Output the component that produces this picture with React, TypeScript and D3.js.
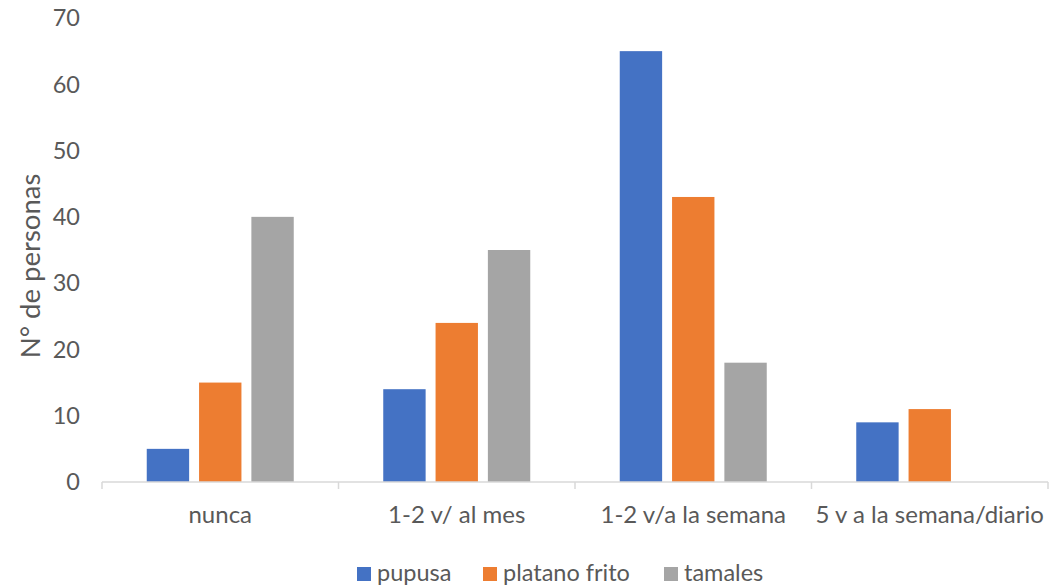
import React from "react";
import * as d3 from "d3";

const categories = ["nunca", "1-2 v/ al mes", "1-2 v/a la semana", "5 v a la semana/diario"];
const seriesNames = ["pupusa", "platano frito", "tamales"];
const pupusa = [5, 14, 65, 9];
const platanoFrito = [15, 24, 43, 11];
const tamales = [40, 35, 18, 0];
const yTicks = [0, 10, 20, 30, 40, 50, 60, 70];
const colors = ["#4472C4", "#ED7D31", "#A5A5A5"];

const W = 1054, H = 586;
const left = 102, right = 1048, top = 18, bottom = 482;
const font = "Lato, 'Open Sans', sans-serif";

export default function App() {
  const series = [pupusa, platanoFrito, tamales];
  const x0 = d3.scaleBand<string>().domain(categories).range([left, right]).paddingInner(0).paddingOuter(0);
  const bw = x0.bandwidth();
  const groupW = 147;
  const x1 = d3.scaleBand<string>().domain(seriesNames).range([0, groupW]).paddingInner(0.19).paddingOuter(0);
  const y = d3.scaleLinear().domain([0, 70]).range([bottom, top]);
  const tickXs = categories.map((c) => x0(c)!).concat([right]);
  const legendX = [357, 483, 664];

  return (
    <svg width={W} height={H} style={{ position: "absolute", left: 0, top: 0, background: "#fff" }}>
      {series.map((vals, si) =>
        vals.map((v, ci) => {
          const cx = x0(categories[ci])! + bw / 2;
          const xs = cx - groupW / 2 + x1(seriesNames[si])!;
          if (v <= 0) return null;
          return (
            <rect key={`${si}-${ci}`} x={xs} y={y(v)} width={x1.bandwidth()} height={y(0) - y(v)} fill={colors[si]} />
          );
        })
      )}
      <line x1={left} x2={right} y1={bottom} y2={bottom} stroke="#D9D9D9" strokeWidth={1.5} />
      {tickXs.map((tx, i) => (
        <line key={i} x1={tx} x2={tx} y1={bottom} y2={bottom + 7} stroke="#D9D9D9" strokeWidth={1.5} />
      ))}
      {yTicks.map((t) => (
        <text key={t} x={80} y={y(t)} dy="0.35em" textAnchor="end" fontFamily={font} fontSize={23.5} fill="#595959">
          {t}
        </text>
      ))}
      {categories.map((c) => (
        <text key={c} x={x0(c)! + bw / 2} y={515} dy="0.35em" textAnchor="middle" fontFamily={font} fontSize={24} fill="#595959">
          {c}
        </text>
      ))}
      <text transform={`translate(30, ${266}) rotate(-90)`} textAnchor="middle" dy="0.35em" fontFamily={font} fontSize={27.5} fill="#595959">
        N° de personas
      </text>
      {seriesNames.map((s, i) => (
        <g key={s}>
          <rect x={legendX[i]} y={567} width={14} height={14} fill={colors[i]} />
          <text x={legendX[i] + 20} y={573} dy="0.35em" fontFamily={font} fontSize={23.5} fill="#595959">
            {s}
          </text>
        </g>
      ))}
    </svg>
  );
}
